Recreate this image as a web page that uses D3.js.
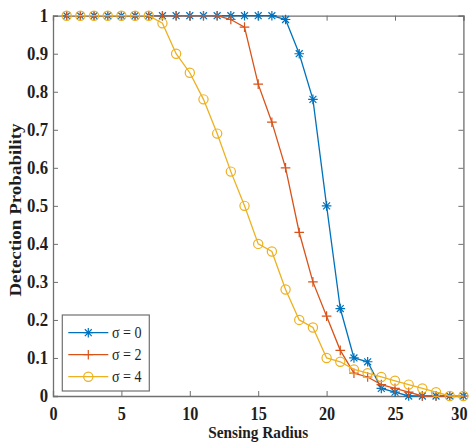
<!DOCTYPE html>
<html>
<head>
<meta charset="utf-8">
<script src="https://cdn.jsdelivr.net/npm/d3@7"></script>
<style>
  html, body { margin: 0; padding: 0; background: #fff; }
  svg { display: block; }
  text { font-family: "Liberation Serif", "Times New Roman", serif; }
</style>
</head>
<body>
<svg id="chart" width="469" height="444"></svg>
<script>
// Sensing radius values (x) and detection probability per noise level
const radius = d3.range(1, 31);
const sigma0 = [1, 1, 1, 1, 1, 1, 1, 1, 1, 1, 1, 1, 1, 1, 1, 1, 0.99, 0.9, 0.78, 0.5,
                0.23, 0.1, 0.09, 0.02, 0.01, 0, 0, 0, 0, 0];
const sigma2 = [1, 1, 1, 1, 1, 1, 1, 1, 1, 1, 1, 1, 0.99, 0.97, 0.82, 0.72, 0.6, 0.43, 0.3, 0.21,
                0.12, 0.06, 0.05, 0.03, 0.02, 0.01, 0, 0, 0, 0];
const sigma4 = [1, 1, 1, 1, 1, 1, 1, 0.98, 0.9, 0.85, 0.78, 0.69, 0.59, 0.5, 0.4, 0.38, 0.28, 0.2, 0.18, 0.1,
                0.09, 0.07, 0.06, 0.05, 0.04, 0.03, 0.02, 0.01, 0, 0];
const seriesNames = ["σ = 0", "σ = 2", "σ = 4"];
const seriesColors = ["#0072BD", "#D95319", "#EDB120"];
const seriesMarkers = ["asterisk", "plus", "circle"];
const xTicks = [0, 5, 10, 15, 20, 25, 30];
const yTicks = [0, 0.1, 0.2, 0.3, 0.4, 0.5, 0.6, 0.7, 0.8, 0.9, 1];
const xLabel = "Sensing Radius";
const yLabel = "Detection Probability";

const series = [sigma0, sigma2, sigma4].map((vals, i) => ({
  name: seriesNames[i], color: seriesColors[i], marker: seriesMarkers[i],
  points: vals.map((v, j) => [radius[j], v])
}));

const W = 469, H = 444;
const m = { left: 53, top: 15.7, right: 5.6, bottom: 48 };
const svg = d3.select("#chart");

const x = d3.scaleLinear().domain([0, 30]).range([m.left, W - m.right]);
const y = d3.scaleLinear().domain([0, 1]).range([H - m.bottom, m.top]);

const axisColor = "#707070";
const textColor = "#1e1e1e";
const tickLen = 5;

// Narrow a text horizontally by a factor, keeping its anchor
function squeeze(sel, k) {
  sel.each(function () {
    const len = this.getComputedTextLength();
    if (len > 0) {
      d3.select(this).attr("textLength", len * k).attr("lengthAdjust", "spacingAndGlyphs");
    }
  });
}

// Axes on all four sides, ticks pointing inward
const axBottom = svg.append("g").attr("transform", `translate(0,${y(0)})`)
  .call(d3.axisBottom(x).tickValues(xTicks).tickSize(-tickLen).tickPadding(11.5).tickFormat(d3.format("d")));
const axTop = svg.append("g").attr("transform", `translate(0,${y(1)})`)
  .call(d3.axisTop(x).tickValues(xTicks).tickSize(-tickLen).tickFormat(""));
const axLeft = svg.append("g").attr("transform", `translate(${x(0)},0)`)
  .call(d3.axisLeft(y).tickValues(yTicks).tickSize(-tickLen).tickPadding(5)
    .tickFormat(d => d === 0 || d === 1 ? d3.format("d")(d) : d3.format(".1f")(d)));
const axRight = svg.append("g").attr("transform", `translate(${x(30)},0)`)
  .call(d3.axisRight(y).tickValues(yTicks).tickSize(-tickLen).tickFormat(""));

[axBottom, axTop, axLeft, axRight].forEach(g => {
  g.attr("font-family", null);
  g.select(".domain").attr("stroke", axisColor).attr("stroke-width", 1.3);
  g.selectAll(".tick line").attr("stroke", axisColor).attr("stroke-width", 1);
  g.selectAll(".tick text").attr("fill", textColor).attr("font-size", 18).attr("font-weight", "bold");
});
// the last x label sits against the right edge of the page
axBottom.selectAll(".tick text").filter(d => d === 30)
  .attr("text-anchor", "end").attr("x", W - 2 - x(30));
squeeze(axBottom.selectAll(".tick text"), 0.9);
squeeze(axLeft.selectAll(".tick text"), 0.93);

// Axis titles
const xt = svg.append("text").attr("x", (x(0) + x(30)) / 2).attr("y", 438)
  .attr("text-anchor", "middle").attr("font-size", 17).attr("font-weight", "bold").attr("fill", textColor)
  .text(xLabel);
squeeze(xt, 0.9);
svg.append("text").attr("transform", `translate(20.5,210) scale(0.85,1) rotate(-90)`)
  .attr("text-anchor", "middle").attr("font-size", 19).attr("font-weight", "bold").attr("fill", textColor)
  .text(yLabel);

// Marker drawing
function drawMarker(g, type, color, cx, cy) {
  if (type === "circle") {
    g.append("circle").attr("cx", cx).attr("cy", cy).attr("r", 4.6)
      .attr("fill", "none").attr("stroke", color).attr("stroke-width", 1.2);
  } else if (type === "plus") {
    const s = 4.8;
    g.append("path").attr("d", `M${cx - s},${cy}H${cx + s}M${cx},${cy - s}V${cy + s}`)
      .attr("stroke", color).attr("stroke-width", 1.2).attr("fill", "none");
  } else {
    const s = 4.8, d = s * 0.72;
    g.append("path").attr("d",
      `M${cx - s},${cy}H${cx + s}M${cx},${cy - s}V${cy + s}M${cx - d},${cy - d}L${cx + d},${cy + d}M${cx - d},${cy + d}L${cx + d},${cy - d}`)
      .attr("stroke", color).attr("stroke-width", 1.2).attr("fill", "none");
  }
}

const line = d3.line().x(d => x(d[0])).y(d => y(d[1]));
series.forEach(s => {
  const g = svg.append("g");
  g.append("path").attr("d", line(s.points)).attr("fill", "none")
    .attr("stroke", s.color).attr("stroke-width", 1.3);
  s.points.forEach(p => drawMarker(g, s.marker, s.color, x(p[0]), y(p[1])));
});

// Legend
const lg = svg.append("g");
lg.append("rect").attr("x", 62.3).attr("y", 315).attr("width", 87).attr("height", 76)
  .attr("fill", "#fff").attr("stroke", axisColor).attr("stroke-width", 1.2);
series.forEach((s, i) => {
  const ly = 332.7 + i * 22;
  lg.append("line").attr("x1", 68.3).attr("x2", 108.3).attr("y1", ly).attr("y2", ly)
    .attr("stroke", s.color).attr("stroke-width", 1.3);
  drawMarker(lg, s.marker, s.color, 88.3, ly);
  const t = lg.append("text").attr("x", 112).attr("y", ly + 5.5).attr("font-size", 16).attr("fill", textColor)
    .text(s.name);
  squeeze(t, 0.88);
});
</script>
</body>
</html>
